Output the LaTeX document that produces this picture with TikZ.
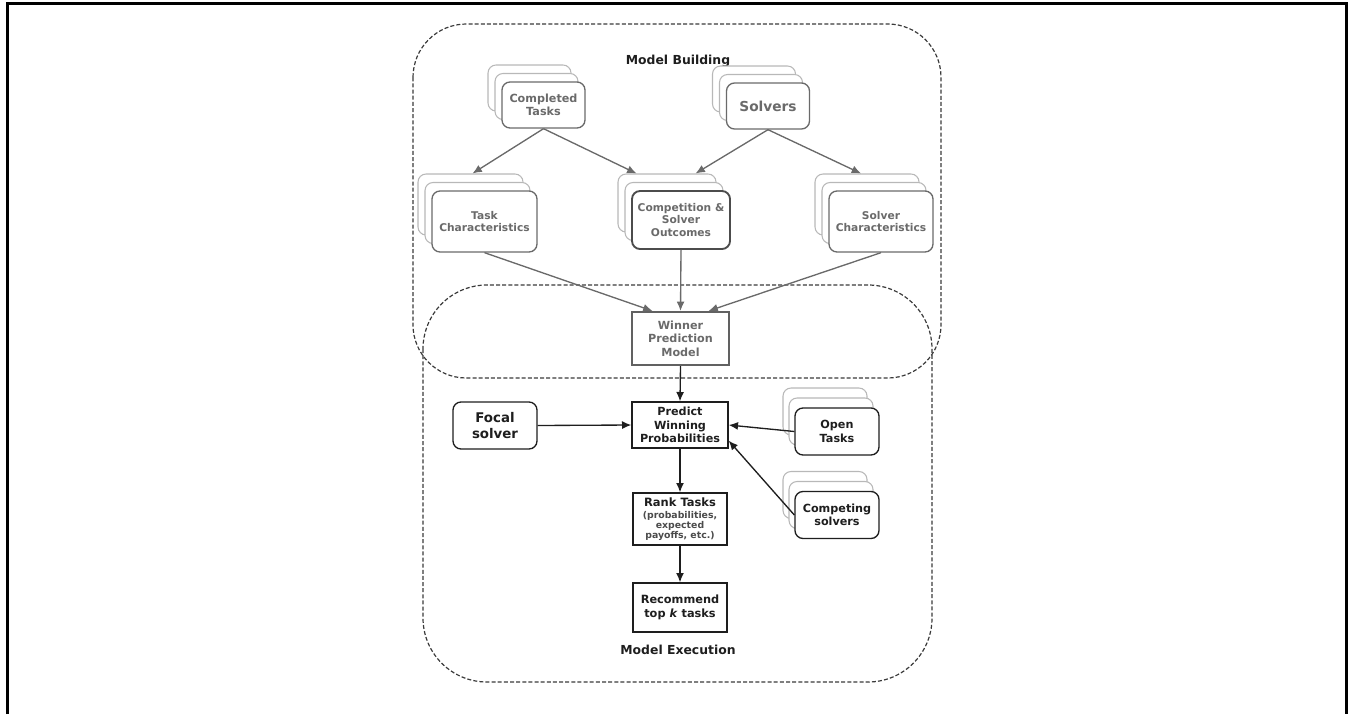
\documentclass[tikz,border=0pt]{standalone}
\usepackage{fontspec}
\setmainfont{DejaVu Sans}
\usetikzlibrary{arrows.meta,calc}
\definecolor{boxgray}{HTML}{6A6A6A}
\definecolor{layergray}{HTML}{B8B8B8}
\definecolor{dashgray}{HTML}{3A3A3A}
\definecolor{inkdark}{HTML}{1E1E1E}
\newcommand{\subtxt}[1]{{\color{inkdark!80}\fontsize{7}{7.5}\selectfont #1}}
\tikzset{
  box/.style={rectangle,draw=inkdark,text=inkdark,line width=1pt,align=center,fill=white,
    inner sep=1pt,font=\bfseries\fontsize{8.4}{10}\selectfont},
  rbox/.style={box,rounded corners=6pt},
  grey/.style={draw=boxgray,text=boxgray},
  layer/.style={rectangle,rounded corners=6pt,draw=layergray,line width=0.8pt,fill=white},
  region/.style={dash pattern=on 3pt off 1.6pt,line width=0.9pt,draw=dashgray},
  feed/.style={-{Latex[length=7pt,width=6pt]},line width=1pt,draw=boxgray,fill=boxgray},
  flow/.style={-{Latex[length=7pt,width=6pt]},line width=1pt,draw=inkdark,fill=inkdark},
  title/.style={font=\bfseries\fontsize{9.3}{11}\selectfont,text=inkdark}
}

\begin{document}
\begin{tikzpicture}[x=0.75pt,y=-0.75pt]
\useasboundingbox (0,0) rectangle (1349,714);
%frame
\draw[line width=2.25pt,black] (7.5,714) -- (7.5,3.5) -- (1346.5,3.5) -- (1346.5,714);
%regions
\draw[region,rounded corners=40pt] (413,24) rectangle (941,378);
\draw[region,rounded corners=48pt] (423,285) rectangle (932,682);
\node[title] (mb) at (678,61) {Model Building};
\node[title] (me) at (678,650) {Model Execution};
%stacked layers
\foreach \nm/\cx/\cy/\w/\h in {ct/543.5/105/62.25/34.5,so/768/106/62.25/34.5,
  tc/484.5/221.5/78.75/45.75,co/681/220/73.5/43.5,sc/881/221.5/78/45.75}{
  \node[layer,minimum width=\w pt,minimum height=\h pt] (\nm2) at (\cx-14,\cy-17) {};
  \node[layer,minimum width=\w pt,minimum height=\h pt] (\nm1) at (\cx-7,\cy-8.5) {};
}
\foreach \nm/\cx/\cy in {ot/837/431.5,cs/837/515}{
  \node[layer,minimum width=63pt,minimum height=35.25pt] (\nm2) at (\cx-12,\cy-20) {};
  \node[layer,minimum width=63pt,minimum height=35.25pt] (\nm1) at (\cx-6,\cy-10) {};
}
%model building
\node[rbox,grey,minimum width=62.25pt,minimum height=34.5pt] (ct) at (543.5,105) {Completed\\Tasks};
\node[rbox,grey,minimum width=62.25pt,minimum height=34.5pt,font=\bfseries\fontsize{10.3}{12}\selectfont] (so) at (768,106) {Solvers};
\node[rbox,grey,minimum width=78.75pt,minimum height=45.75pt,font=\bfseries\fontsize{8}{9.3}\selectfont] (tc) at (484.5,221.5) {Task\\Characteristics};
\node[rbox,grey,draw=black!70,line width=1.4pt,minimum width=73.5pt,minimum height=43.5pt,font=\bfseries\fontsize{8}{9.4}\selectfont] (co) at (681,220) {Competition \&\\Solver\\Outcomes};
\node[rbox,grey,minimum width=78pt,minimum height=45.75pt,font=\bfseries\fontsize{8}{9.3}\selectfont] (sc) at (881,221.5) {Solver\\Characteristics};
\node[box,grey,draw=black!62,line width=1.6pt,minimum width=72.75pt,minimum height=39.75pt] (wp) at (680.5,338.5) {Winner\\Prediction\\Model};
%model execution
\node[box,minimum width=72pt,minimum height=34.5pt] (pw) at (680,425) {Predict\\Winning\\Probabilities};
\node[rbox,minimum width=63pt,minimum height=35.25pt,font=\bfseries\fontsize{10}{11.7}\selectfont] (fs) at (495,425.5) {Focal\\solver};
\node[rbox,minimum width=63pt,minimum height=35.25pt] (ot) at (837,431.5) {Open\\Tasks};
\node[rbox,minimum width=63pt,minimum height=35.25pt] (cs) at (837,515) {Competing\\solvers};
\node[box,minimum width=70.5pt,minimum height=39pt,font=\bfseries\fontsize{8.6}{10}\selectfont] (rt) at (680,519) {Rank Tasks\\[-0.5pt]\subtxt{(probabilities,}\\[-2.5pt]\subtxt{expected}\\[-2.5pt]\subtxt{payoffs, etc.)}};
\node[box,minimum width=70.5pt,minimum height=36.75pt,font=\bfseries\fontsize{8.5}{10.5}\selectfont] (rk) at (680,607.5) {Recommend\\top \textit{k} tasks};
%arrows
\draw[feed] (ct.south) -- ($(tc2.north)+(2,0)$);
\draw[feed] (ct.south) -- ($(co2.north west)+(19,0)$);
\draw[feed] (so.south) -- ($(co2.north east)+(-21,0)$);
\draw[feed] (so.south) -- ($(sc2.north)+(-6,0)$);
\draw[feed] (tc.south) -- ($(wp.north)+(-28,0)$);
\draw[feed] (co.south) -- (wp.north);
\draw[feed] (sc.south) -- ($(wp.north)+(28,0)$);
\draw[flow] (wp.south) -- (pw.north);
\draw[flow] (fs.east) -- (pw.west);
\draw[flow] (ot.west) -- (pw.east);
\draw[flow] (cs.west) -- ($(pw.south east)+(0,-8)$);
\draw[flow] (pw.south) -- (rt.north);
\draw[flow] (rt.south) -- (rk.north);
\end{tikzpicture}
\end{document}
